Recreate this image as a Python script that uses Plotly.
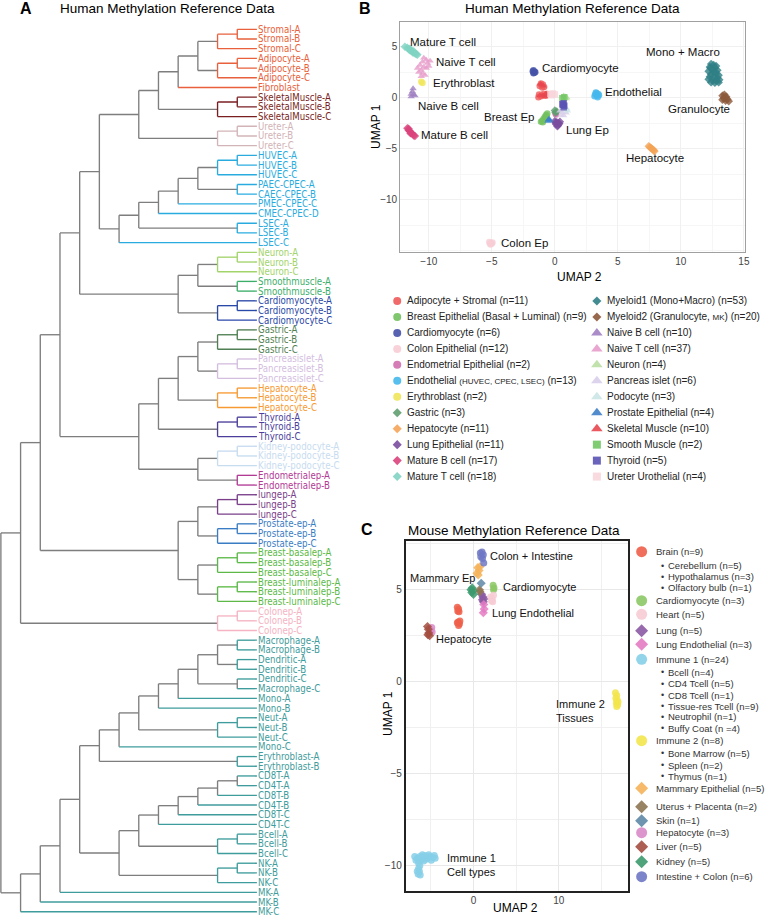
import plotly.graph_objects as go

W, H = 767, 916
FONT = "Liberation Sans, Arial, sans-serif"
NARROW = "Liberation Sans Narrow, Arial Narrow, DejaVu Sans Condensed, Liberation Sans, sans-serif"
GRAY = "#7E7E7E"

# ===================== Panel A data: dendrogram =====================
stromal = [["Stromal-A", "Stromal-B"], "Stromal-C"]
adipo = [["Adipocyte-A", "Adipocyte-B"], "Adipocyte-C"]
skel = [["SkeletalMuscle-A", "SkeletalMuscle-B"], "SkeletalMuscle-C"]
ureter = [["Ureter-A", "Ureter-B"], "Ureter-C"]
huvec = [["HUVEC-A", "HUVEC-B"], "HUVEC-C"]
cpec = [[huvec, ["PAEC-CPEC-A", "CAEC-CPEC-B"]], "PMEC-CPEC-C"]
endo = [[[cpec, "CMEC-CPEC-D"], ["LSEC-A", "LSEC-B"]], "LSEC-C"]
mesen = [[[[[stromal, adipo], "Fibroblast"], skel], ureter], endo]
neuro = [[[["Neuron-A", "Neuron-B"], "Neuron-C"], ["Smoothmuscle-A", "Smoothmuscle-B"]],
         [["Cardiomyocyte-A", "Cardiomyocyte-B"], "Cardiomyocyte-C"]]
gastric = [["Gastric-A", "Gastric-B"], "Gastric-C"]
panc = [["Pancreasislet-A", "Pancreasislet-B"], "Pancreasislet-C"]
hep = [["Hepatocyte-A", "Hepatocyte-B"], "Hepatocyte-C"]
thy = [["Thyroid-A", "Thyroid-B"], "Thyroid-C"]
kid = [["Kidney-podocyte-A", "Kidney-podocyte-B"], "Kidney-podocyte-C"]
endom = ["Endometrialep-A", "Endometrialep-B"]
epi1 = [[[[gastric, panc], hep], thy], [kid, endom]]
lung = [["lungep-A", "lungep-B"], "lungep-C"]
pros = [["Prostate-ep-A", "Prostate-ep-B"], "Prostate-ep-C"]
basal = [["Breast-basalep-A", "Breast-basalep-B"], "Breast-basalep-C"]
lum = [["Breast-luminalep-A", "Breast-luminalep-B"], "Breast-luminalep-C"]
epi2 = [[lung, pros], [basal, lum]]
colon = [["Colonep-A", "Colonep-B"], "Colonep-C"]
solid = [[[[mesen, neuro], epi1], epi2], colon]
mac = [[["Macrophage-A", "Macrophage-B"], ["Dendritic-A", "Dendritic-B"]], ["Dendritic-C", "Macrophage-C"]]
myel = [[[[[mac, "Mono-A"], "Mono-B"], [["Neut-A", "Neut-B"], "Neut-C"]], "Mono-C"],
        ["Erythroblast-A", "Erythroblast-B"]]
tcell = [[[[["CD8T-A", "CD4T-A"], "CD8T-B"], "CD4T-B"], "CD8T-C"], "CD4T-C"]
bcell = [["Bcell-A", "Bcell-B"], "Bcell-C"]
nk = [["NK-A", "NK-B"], "NK-C"]
immune = [[[[myel, [[tcell, bcell], nk]], "MK-A"], "MK-B"], "MK-C"]
tree = [solid, immune]

GROUP_ALIAS = {"PAEC-CPEC": "CPEC", "CAEC-CPEC": "CPEC", "PMEC-CPEC": "CPEC", "CMEC-CPEC": "CPEC"}
IMM = "#3F9C9C"
GROUP_COLORS = {
    "Stromal": "#E8613C", "Adipocyte": "#E8613C", "Fibroblast": "#E8613C",
    "SkeletalMuscle": "#7A1E22", "Ureter": "#D2B4B8",
    "HUVEC": "#2AABE0", "CPEC": "#2AABE0", "LSEC": "#2AABE0",
    "Neuron": "#A3D36B", "Smoothmuscle": "#3DAE6A", "Cardiomyocyte": "#2A48A8",
    "Gastric": "#4F7F52", "Pancreasislet": "#D4BEE0", "Hepatocyte": "#F79A32",
    "Thyroid": "#4B3E9B", "Kidney-podocyte": "#C8DCF0", "Endometrialep": "#B23A96",
    "lungep": "#7A3E8A", "Prostate-ep": "#3B7DC4",
    "Breast-basalep": "#5CB947", "Breast-luminalep": "#5CB947", "Colonep": "#F5B3C3",
    "Macrophage": IMM, "Dendritic": IMM, "Mono": IMM, "Neut": IMM, "Erythroblast": IMM,
    "CD8T": IMM, "CD4T": IMM, "Bcell": IMM, "NK": IMM, "MK": IMM,
}

# ===================== Panel B data: human UMAP =====================
B_GROUPS = [
    ("Adipocyte + Stromal (n=11)", "circle", "#F05A5A",
     [(-1.1, 1.4), (-0.95, 1.3), (-1.2, 1.15), (-0.85, 1.05), (-1.0, 1.0), (-1.25, 0.3),
      (-1.1, 0.15), (-0.9, 0.35), (-0.75, 0.2), (-1.3, 0.05), (-0.6, 0.35)]),
    ("Breast Epithelial (Basal + Luminal) (n=9)", "circle", "#72C05E",
     [(-0.6, -1.55), (-0.7, -1.7), (-0.8, -1.9), (-0.9, -2.1), (-1.0, -2.25), (-1.1, -2.35),
      (-0.75, -2.05), (-0.95, -2.4), (-0.65, -1.8)]),
    ("Cardiomyocyte (n=6)", "circle", "#4552A8",
     [(-1.75, 2.6), (-1.65, 2.45), (-1.6, 2.55), (-1.7, 2.4), (-1.55, 2.5), (-1.7, 2.7)]),
    ("Colon Epithelial (n=12)", "circle", "#F7CDD4",
     [(-5.2, -14.15), (-5.0, -14.3), (-5.1, -14.4), (-4.95, -14.2), (-5.15, -14.3)]),
    ("Endometrial Epithelial (n=2)", "circle", "#CF6FAE", [(0.05, -1.55), (0.1, -1.65)]),
    ("Endothelial <span style='font-size:8px'>(HUVEC, CPEC, LSEC)</span> (n=13)", "circle", "#45B8EC",
     [(3.2, 0.3), (3.35, 0.2), (3.3, 0.45), (3.45, 0.35), (3.15, 0.15), (3.4, 0.05), (3.25, 0.5), (3.5, 0.25)]),
    ("Erythroblast (n=2)", "circle", "#F0E65A", [(-10.6, 1.55), (-10.5, 1.45)]),
    ("Gastric (n=3)", "diamond", "#5E9E6E", [(0.0, -1.25), (0.15, -1.35), (0.05, -1.45)]),
    ("Hepatocyte (n=11)", "diamond", "#F4A456",
     [(7.45, -4.75), (7.55, -4.85), (7.65, -4.95), (7.75, -5.05), (7.85, -5.15), (7.9, -5.25)]),
    ("Lung Epithelial (n=11)", "diamond", "#7A4C9E",
     [(0.0, -2.3), (0.15, -2.4), (0.3, -2.5), (0.1, -2.6), (0.25, -2.7), (0.35, -2.55),
      (0.05, -2.45), (0.2, -2.8), (0.4, -2.35)]),
    ("Mature B cell (n=17)", "diamond", "#D9437C",
     [(-11.7, -3.0), (-11.6, -3.2), (-11.5, -3.3), (-11.4, -3.45), (-11.3, -3.55), (-11.2, -3.7),
      (-11.6, -3.05), (-11.45, -3.5), (-11.1, -3.75)]),
    ("Mature T cell (n=18)", "diamond", "#7FD3C2",
     [(-11.9, 5.0), (-11.7, 4.9), (-11.6, 4.75), (-11.5, 4.8), (-11.4, 4.6), (-11.3, 4.5),
      (-11.2, 4.55), (-11.1, 4.35), (-11.0, 4.25), (-10.9, 4.2), (-11.5, 4.65), (-11.25, 4.4)]),
    ("Myeloid1 (Mono+Macro) (n=53)", "diamond", "#2F7F86",
     [(12.4, 3.3), (12.6, 3.2), (12.8, 3.1), (12.3, 3.0), (12.7, 2.9), (12.5, 2.75), (12.9, 2.7),
      (12.2, 2.6), (12.6, 2.5), (12.4, 2.3), (12.8, 2.35), (13.0, 2.2), (12.3, 2.05), (12.6, 2.0),
      (12.9, 1.95), (12.2, 1.8), (12.5, 1.7), (12.8, 1.65), (13.05, 1.75), (12.4, 1.5), (12.7, 1.45),
      (13.0, 1.5), (12.35, 2.9), (12.75, 2.55)]),
    ("Myeloid2 (Granulocyte, <span style='font-size:8px'>MK</span>) (n=20)", "diamond", "#8C5A3C",
     [(13.3, 0.2), (13.45, 0.3), (13.6, 0.1), (13.4, -0.05), (13.7, -0.15), (13.55, -0.3),
      (13.3, -0.2), (13.8, -0.35), (13.5, 0.05)]),
    ("Naive B cell (n=10)", "triangle-up", "#A080C2",
     [(-11.4, 0.1), (-11.2, 0.3), (-11.3, 0.6), (-11.1, 0.2), (-11.25, 0.9), (-11.4, 0.35)]),
    ("Naive T cell (n=37)", "triangle-up", "#E79CCB",
     [(-10.4, 3.9), (-10.2, 3.7), (-10.5, 3.5), (-10.1, 3.4), (-10.7, 3.2), (-10.4, 3.0), (-10.9, 2.9),
      (-10.6, 2.7), (-10.2, 2.9), (-10.5, 2.4), (-10.8, 2.5), (-10.3, 2.2), (-10.0, 3.1), (-10.6, 2.1),
      (-9.9, 3.6)]),
    ("Neuron (n=4)", "triangle-up", "#BADFA4", [(0.85, 0.1), (0.9, -0.1), (0.7, 0.2), (0.95, 0.0)]),
    ("Pancreas islet (n=6)", "triangle-up", "#D8CFEA",
     [(0.4, -1.3), (0.6, -1.45), (0.8, -1.2), (0.5, -1.7), (0.9, -1.5), (0.7, -1.75)]),
    ("Podocyte (n=3)", "triangle-up", "#CBE5E5", [(0.95, -1.1), (1.0, -1.3), (0.85, -1.0)]),
    ("Prostate Epithelial (n=4)", "triangle-up", "#3F80C8",
     [(-0.5, -2.15), (-0.4, -2.25), (-0.55, -2.3), (-0.45, -2.1)]),
    ("Skeletal Muscle (n=10)", "triangle-up", "#E8464F",
     [(-1.05, 1.25), (-0.9, 1.15), (-1.15, 1.35), (-0.95, 0.25), (-0.8, 0.1), (-1.2, 0.2),
      (-0.65, 0.25), (-0.7, 0.4)]),
    ("Smooth Muscle (n=2)", "square", "#72C764", [(0.75, 0.05), (0.6, -0.05)]),
    ("Thyroid (n=5)", "square", "#5A52B4",
     [(0.7, -0.55), (0.65, -0.7), (0.75, -0.8), (0.7, -0.95), (0.6, -0.65)]),
    ("Ureter Urothelial (n=4)", "square", "#F7D6DB",
     [(-0.35, 0.35), (-0.15, 0.4), (0.0, 0.3), (-0.25, 0.25)]),
]
B_LABELS = [("Mature T cell", -11.66, 5.49, "left"), ("Naive T cell", -9.55, 3.53, "left"),
            ("Erythroblast", -9.82, 1.47, "left"), ("Naive B cell", -11.05, -0.78, "left"),
            ("Mature B cell", -10.81, -3.66, "left"), ("Cardiomyocyte", -1.18, 2.88, "left"),
            ("Endothelial", 3.81, 0.53, "left"), ("Mono + Macro", 7.07, 4.45, "left"),
            ("Granulocyte", 8.81, -1.14, "left"), ("Breast Ep", -1.45, -1.92, "right"),
            ("Lung Ep", 0.76, -3.17, "left"), ("Hepatocyte", 5.45, -5.88, "left"),
            ("Colon Ep", -4.42, -14.2, "left")]

# ===================== Panel C data: mouse UMAP =====================
C_GROUPS = {
    "Brain": ("circle", "#EE5F4A",
              [(-1.9, 4.05), (-1.75, 3.95), (-1.85, 3.85), (-1.7, 3.8), (-1.8, 3.25), (-1.65, 3.15),
               (-1.75, 3.05), (-1.9, 3.2), (-1.6, 3.3)]),
    "Cardiomyocyte": ("circle", "#8CC865", [(2.3, 5.25), (2.4, 5.1), (2.35, 5.0)]),
    "Heart": ("circle", "#F7CBD3", [(2.0, 4.6), (2.2, 4.5), (2.1, 4.4), (2.35, 4.7), (2.25, 4.35)]),
    "Lung": ("diamond", "#8B5AA3", [(0.95, 4.75), (1.1, 4.6), (1.05, 4.45), (1.2, 4.5), (1.15, 4.35)]),
    "Lung Endothelial": ("diamond", "#E47BC3", [(1.2, 4.2), (1.25, 3.95), (1.15, 3.75)]),
    "Immune 1": ("circle", "#86CFE8",
                 [(-6.9, -9.5), (-6.6, -9.6), (-6.3, -9.5), (-6.0, -9.55), (-5.7, -9.45), (-5.4, -9.6),
                  (-5.1, -9.5), (-4.8, -9.55), (-4.5, -9.6), (-6.75, -9.7), (-6.15, -9.7), (-5.55, -9.65),
                  (-4.95, -9.7), (-5.25, -9.4), (-6.45, -9.85), (-6.3, -10.0), (-6.45, -10.15),
                  (-6.35, -10.3), (-6.5, -10.45), (-6.25, -10.5), (-6.6, -10.3), (-4.6, -9.45),
                  (-5.85, -9.75), (-6.0, -9.4)]),
    "Immune 2": ("circle", "#F2E54C",
                 [(16.65, -0.6), (16.8, -0.75), (16.7, -0.9), (16.85, -1.0), (16.75, -1.15),
                  (16.9, -1.25), (16.8, -1.35), (16.95, -1.1)]),
    "Mammary Epithelial": ("diamond", "#F5B35A", [(0.5, 6.2), (0.65, 6.05), (0.4, 5.9), (0.55, 5.8), (0.75, 6.25)]),
    "Uterus + Placenta": ("diamond", "#8E7654", [(0.7, 5.0), (0.75, 4.9)]),
    "Skin": ("diamond", "#5E88A6", [(0.9, 5.35)]),
    "Hepatocyte": ("circle", "#D98AC9", [(-4.9, 2.95), (-5.0, 2.8), (-4.85, 2.7)]),
    "Liver": ("diamond", "#A34E3F", [(-5.4, 3.0), (-5.3, 2.85), (-5.25, 2.65), (-5.35, 2.55), (-5.15, 2.5)]),
    "Kidney": ("diamond", "#3C9A6E", [(-0.3, 5.0), (-0.15, 5.1), (-0.05, 4.95), (-0.2, 4.85), (0.0, 4.75)]),
    "Intestine + Colon": ("circle", "#6F78C4", [(0.8, 7.0), (1.0, 7.05), (1.15, 6.9), (0.85, 6.8), (1.05, 6.7), (1.2, 6.45)]),
}
C_LEGEND = [("Brain", "Brain (n=9)"), (None, "Cerebellum (n=5)"), (None, "Hypothalamus (n=3)"),
            (None, "Olfactory bulb (n=1)"), ("Cardiomyocyte", "Cardiomyocyte (n=3)"),
            ("Heart", "Heart (n=5)"), ("Lung", "Lung (n=5)"), ("Lung Endothelial", "Lung Endothelial (n=3)"),
            ("Immune 1", "Immune 1 (n=24)"), (None, "Bcell (n=4)"), (None, "CD4 Tcell (n=5)"),
            (None, "CD8 Tcell (n=1)"), (None, "Tissue-res Tcell (n=9)"), (None, "Neutrophil (n=1)"),
            (None, "Buffy Coat (n =4)"), ("Immune 2", "Immune 2 (n=8)"), (None, "Bone Marrow (n=5)"),
            (None, "Spleen (n=2)"), (None, "Thymus (n=1)"), ("Mammary Epithelial", "Mammary Epithelial (n=5)"),
            ("Uterus + Placenta", "Uterus + Placenta (n=2)"), ("Skin", "Skin (n=1)"),
            ("Hepatocyte", "Hepatocyte (n=3)"), ("Liver", "Liver (n=5)"), ("Kidney", "Kidney (n=5)"),
            ("Intestine + Colon", "Intestine + Colon (n=6)")]
C_LABELS = [("Colon + Intestine", 1.71, 6.85, "left"), ("Mammary Ep", 0.39, 5.62, "right"),
            ("Cardiomyocyte", 3.19, 5.16, "left"), ("Lung Endothelial", 1.94, 3.75, "left"),
            ("Hepatocyte", -4.67, 2.3, "left"), ("Immune 2<br>Tissues", 9.49, -1.57, "left"),
            ("Immune 1<br>Cell types", -3.35, -9.96, "left")]

# ===================== layout constants (pixels) =====================
C_LEG_Y = [551.7, 565.7, 576.7, 587.7, 600.7, 614.3, 630.7, 644.3, 659.3, 672.3, 683.5, 695, 706,
           716.7, 728.3, 740.7, 753.3, 765, 776, 788.3, 806.7, 820.7, 832.7, 846.7, 861.7, 876.7]


def px(x):
    return x / W


def py(y):
    return 1 - y / H


fig = go.Figure()
annotations = []

# ---------- dendrogram ----------
segs = {}
leaf_order = []


def group_of(label):
    base = label.rsplit("-", 1)[0] if label[-2] == "-" else label
    return GROUP_ALIAS.get(base, base)


def add(color, x0, y0, x1, y1):
    xs, ys = segs.setdefault(color, ([], []))
    xs += [x0, x1, None]
    ys += [y0, y1, None]


def walk(node):
    if isinstance(node, str):
        leaf_order.append(node)
        return 0, len(leaf_order) - 1, {group_of(node)}
    res = [walk(c) for c in node]
    h = 1 + max(r[0] for r in res)
    ys = [r[1] for r in res]
    groups = set().union(*[r[2] for r in res])
    col = GROUP_COLORS[next(iter(groups))] if len(groups) == 1 else GRAY
    add(col, h, min(ys), h, max(ys))
    for c, (ch, cy, _) in zip(node, res):
        ccol = GROUP_COLORS[group_of(c)] if isinstance(c, str) else col
        add(ccol, h, cy, ch, cy)
    return h, sum(ys) / len(ys), groups


root_h, _, _ = walk(tree)
for col in [GRAY] + [c for c in segs if c != GRAY]:
    xs, ys = segs[col]
    fig.add_trace(go.Scatter(x=xs, y=ys, mode="lines", line=dict(color=col, width=1.35),
                             xaxis="x", yaxis="y", hoverinfo="skip", showlegend=False))
for i, lab in enumerate(leaf_order):
    annotations.append(dict(x=0, y=i, xref="x", yref="y", text=lab, showarrow=False, xanchor="left",
                            yanchor="middle", xshift=0, borderpad=0,
                            font=dict(family=NARROW, size=9.6, color=GROUP_COLORS[group_of(lab)])))

# ---------- panel B ----------
for name, sym, col, pts in B_GROUPS:
    fig.add_trace(go.Scatter(x=[p[0] for p in pts], y=[p[1] for p in pts], mode="markers",
                             marker=dict(symbol=sym, color=col, size=6.5, opacity=0.8, line=dict(width=0)),
                             xaxis="x2", yaxis="y2", showlegend=False, hoverinfo="skip"))
for text, x, y, anc in B_LABELS:
    annotations.append(dict(x=x, y=y, xref="x2", yref="y2", text=text, showarrow=False, xanchor=anc,
                            yanchor="middle", font=dict(family=FONT, size=11.5, color="#111")))

# B legend (two columns)
LEG_SIZE = {"circle": 8, "diamond": 7, "triangle-up": 10, "square": 8}
lx, ly, lsym, lcol, lsz = [], [], [], [], []
for i, (name, sym, col, pts) in enumerate(B_GROUPS):
    colx, row = (399.3, i) if i < 12 else (600.0, i - 12)
    yy = 301 + row * 15.96
    lx.append(colx)
    ly.append(yy)
    lsym.append(sym)
    lcol.append(col)
    lsz.append(LEG_SIZE[sym])
    annotations.append(dict(x=px(colx + 8), y=py(yy), xref="paper", yref="paper", text=name, showarrow=False,
                            xanchor="left", yanchor="middle", font=dict(family=FONT, size=10, color="#222")))

# ---------- panel C ----------
for name, (sym, col, pts) in C_GROUPS.items():
    fig.add_trace(go.Scatter(x=[p[0] for p in pts], y=[p[1] for p in pts], mode="markers",
                             marker=dict(symbol=sym, color=col, size=7, opacity=0.85, line=dict(width=0)),
                             xaxis="x3", yaxis="y3", showlegend=False, hoverinfo="skip"))
for text, x, y, anc in C_LABELS:
    annotations.append(dict(x=x, y=y, xref="x3", yref="y3", text=text, showarrow=False, xanchor=anc,
                            yanchor="middle", align="left", font=dict(family=FONT, size=11, color="#111")))

for (key, text), yy in zip(C_LEGEND, C_LEG_Y):
    if key is None:
        annotations.append(dict(x=px(662), y=py(yy), xref="paper", yref="paper", text="•", showarrow=False,
                                xanchor="left", yanchor="middle", font=dict(family=FONT, size=9, color="#333")))
        annotations.append(dict(x=px(669.5), y=py(yy), xref="paper", yref="paper", text=text, showarrow=False,
                                xanchor="left", yanchor="middle", font=dict(family=FONT, size=9.5, color="#333")))
    else:
        sym, col, _ = C_GROUPS[key]
        lx.append(645)
        ly.append(yy)
        lsym.append(sym)
        lcol.append(col)
        lsz.append(11 if sym == "circle" else 10)
        annotations.append(dict(x=px(657.5), y=py(yy), xref="paper", yref="paper", text=text, showarrow=False,
                                xanchor="left", yanchor="middle", font=dict(family=FONT, size=9.5, color="#333")))

fig.add_trace(go.Scatter(x=lx, y=ly, mode="markers", xaxis="x4", yaxis="y4",
                         marker=dict(symbol=lsym, color=lcol, size=lsz, opacity=0.9, line=dict(width=0)),
                         showlegend=False, hoverinfo="skip"))

# ---------- titles & labels ----------
def ann(x, y, text, size, bold=False, angle=0):
    annotations.append(dict(x=px(x), y=py(y), xref="paper", yref="paper", text=f"<b>{text}</b>" if bold else text,
                            showarrow=False, xanchor="center", yanchor="middle", textangle=angle,
                            font=dict(family=FONT, size=size, color="#000")))


ann(26, 9, "A", 16, bold=True)
ann(168, 9, "Human Methylation Reference Data", 13.5)
ann(367, 9, "B", 16, bold=True)
ann(575, 9, "Human Methylation Reference Data", 13.5)
ann(583, 277, "UMAP 2", 12)
ann(378, 127, "UMAP 1", 12, angle=-90)
ann(369, 529, "C", 16, bold=True)
ann(517, 530, "Mouse Methylation Reference Data", 13.5)
ann(518, 908, "UMAP 2", 12)
ann(390, 713, "UMAP 1", 12, angle=-90)

tickfont = dict(family=FONT, size=10, color="#444")
fig.update_layout(
    width=W, height=H, margin=dict(l=0, r=0, t=0, b=0),
    paper_bgcolor="white", plot_bgcolor="rgba(0,0,0,0)", showlegend=False,
    annotations=annotations,
    xaxis=dict(domain=[0, px(258.3)], range=[root_h + 0.045, 0], visible=False),
    yaxis=dict(domain=[0, py(24.45)], range=[91.443, -0.5], visible=False),
    xaxis2=dict(domain=[px(402.3), px(749.3)], range=[-12.27, 15.12], anchor="y2",
                tickvals=[-10, -5, 0, 5, 10, 15], tickfont=tickfont, ticks="", showgrid=True,
                gridcolor="#F0F0F0", zeroline=False, showline=True, linecolor="#A0A0A0", linewidth=1,
                mirror=True, minor=dict(dtick=2.5, tick0=0, showgrid=True, gridcolor="#F6F6F6")),
    yaxis2=dict(domain=[py(251.7), py(22.3)], range=[-15.1, 7.39], anchor="x2",
                tickvals=[5, 0, -5, -10], tickfont=tickfont, ticks="", showgrid=True,
                gridcolor="#F0F0F0", zeroline=False, showline=True, linecolor="#A0A0A0", linewidth=1,
                mirror=True, minor=dict(dtick=2.5, tick0=0, showgrid=True, gridcolor="#F6F6F6")),
    xaxis3=dict(domain=[px(407.7), px(631.7)], range=[-7.97, 18.17], anchor="y3",
                tickvals=[0, 10], tickfont=tickfont, ticks="", showgrid=True,
                gridcolor="#E8E8E8", zeroline=False, showline=True, linecolor="#222", linewidth=1.5,
                mirror=True, minor=dict(dtick=5, tick0=0, showgrid=True, gridcolor="#F0F0F0")),
    yaxis3=dict(domain=[py(890.7), py(541)], range=[-11.36, 7.65], anchor="x3",
                tickvals=[5, 0, -5, -10], tickfont=tickfont, ticks="", showgrid=True,
                gridcolor="#E8E8E8", zeroline=False, showline=True, linecolor="#222", linewidth=1.5,
                mirror=True, minor=dict(dtick=2.5, tick0=0, showgrid=True, gridcolor="#F0F0F0")),
    xaxis4=dict(domain=[0, 1], range=[0, W], visible=False, anchor="y4", fixedrange=True),
    yaxis4=dict(domain=[0, 1], range=[H, 0], visible=False, anchor="x4", fixedrange=True),
)

fig.write_html("out.html", config={"displayModeBar": False},
               post_script="document.body.style.margin='0px';document.body.style.overflow='hidden';")
